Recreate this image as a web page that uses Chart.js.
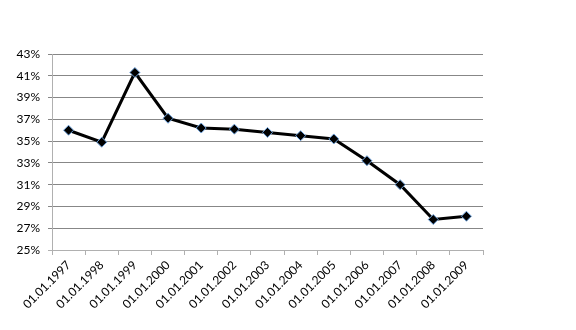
<!DOCTYPE html>
<html>
<head>
<meta charset="utf-8">
<script src="https://cdn.jsdelivr.net/npm/chart.js@4"></script>
<style>
  html, body { margin: 0; padding: 0; background: #fff; }
  #wrap { width: 576px; height: 330px; }
</style>
</head>
<body>
<div id="wrap"><canvas id="chart" width="576" height="330"></canvas></div>
<script>
const dates = ['01.01.1997', '01.01.1998', '01.01.1999', '01.01.2000', '01.01.2001',
    '01.01.2002', '01.01.2003', '01.01.2004', '01.01.2005', '01.01.2006',
    '01.01.2007', '01.01.2008', '01.01.2009'];
const shares = [36.0, 34.9, 41.3, 37.1, 36.2, 36.1, 35.8, 35.5, 35.2, 33.2, 31.0, 27.8, 28.1];
const yMin = 25;
const yMax = 43;
const yStep = 2;

const ctx = document.getElementById('chart').getContext('2d');

new Chart(ctx, {
    type: 'line',
    data: {
        labels: dates,
        datasets: [{
            data: shares,
            borderColor: '#000',
            borderWidth: 3,
            tension: 0,
            fill: false,
            pointStyle: 'rectRot',
            pointRadius: 5,
            pointBackgroundColor: '#000',
            pointBorderColor: '#6fa3dc',
            pointBorderWidth: 1
        }]
    },
    options: {
        responsive: false,
        animation: false,
        layout: { padding: { left: 0, right: 93, top: 54, bottom: 0 } },
        plugins: {
            legend: { display: false },
            tooltip: { enabled: false }
        },
        scales: {
            x: {
                offset: true,
                grid: {
                    offset: true,
                    drawOnChartArea: false,
                    drawTicks: true,
                    tickLength: 5,
                    color: '#b0b0b0'
                },
                border: { color: '#b0b0b0', width: 1 },
                ticks: {
                    color: '#000',
                    font: { family: 'Lato', size: 12 },
                    maxRotation: 45,
                    minRotation: 45,
                    autoSkip: false,
                    padding: 3
                },
                afterFit: axis => { axis.height = 80; }
            },
            y: {
                min: yMin,
                max: yMax,
                grid: {
                    color: c => c.tick && c.tick.value === yMin ? '#b0b0b0' : '#878787',
                    lineWidth: 1,
                    tickLength: 4
                },
                border: { color: '#b0b0b0', width: 1 },
                ticks: {
                    stepSize: yStep,
                    color: '#000',
                    font: { family: 'Lato', size: 12 },
                    padding: 8,
                    callback: v => v + '%'
                },
                afterFit: axis => { axis.width = 52; }
            }
        }
    }
});
</script>
</body>
</html>
